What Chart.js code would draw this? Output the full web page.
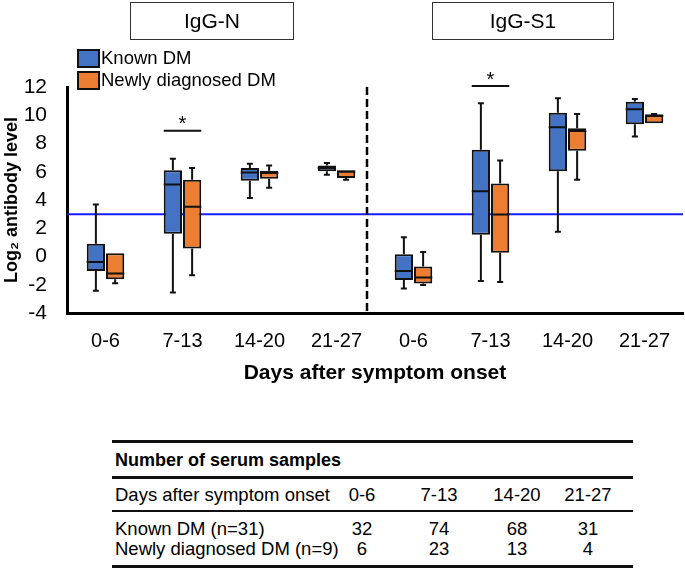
<!DOCTYPE html>
<html>
<head>
<meta charset="utf-8">
<script src="https://cdn.jsdelivr.net/npm/chart.js@4"></script>
<style>
  body { margin: 0; background: #fff; font-family: "Liberation Sans", Arial, sans-serif; color: #000; }
  #wrap { position: relative; width: 685px; height: 570px; overflow: hidden; }
  #c { position: absolute; left: 0; top: 0; }
  .t { position: absolute; white-space: nowrap; }
  .rule { position: absolute; background: #111; }
  .title-box { position: absolute; border: 1px solid #333; height: 36px; line-height: 36px; text-align: center; font-size: 21px; }
  .swatch { position: absolute; width: 19px; height: 15px; border: 2px solid #111; }
</style>
</head>
<body>
<div id="wrap">
  <canvas id="c" width="685" height="400"></canvas>
  <div class="title-box" style="left:130px;top:2px;width:162px;">IgG-N</div>
  <div class="title-box" style="left:432px;top:2px;width:180px;">IgG-S1</div>
  <div class="swatch" style="left:77px;top:49px;background:#4472C4;"></div>
  <div class="t" style="left:101px;top:47px;font-size:18.5px;">Known DM</div>
  <div class="swatch" style="left:77px;top:71px;background:#ED7D31;"></div>
  <div class="t" style="left:101px;top:69px;font-size:18.5px;">Newly diagnosed DM</div>
</div>
<script>
// categories: IgG-N panel then IgG-S1 panel
const categories = ['0-6', '7-13', '14-20', '21-27', '0-6', '7-13', '14-20', '21-27'];

// Known DM box stats (log2 antibody level)
const knownMin = [-2.43, -2.54, 4.15, 5.79, -2.26, -1.73, 1.75, 8.49];
const knownQ1  = [-1.02, 1.61, 5.37, 6.03, -1.66, 1.54, 6.03, 9.37];
const knownMed = [-0.39, 5.09, 5.95, 6.26, -1.02, 4.62, 9.15, 10.42];
const knownQ3  = [0.91, 6.10, 6.26, 6.45, 0.16, 7.55, 10.18, 10.96];
const knownMax = [3.68, 6.92, 6.57, 6.62, 1.37, 10.85, 11.2, 11.15];

// Newly diagnosed DM box stats
const newMin = [-1.89, -1.32, 4.86, 5.44, -2.01, -1.80, 5.44, 9.44];
const newQ1  = [-1.61, 0.56, 5.51, 5.56, -1.91, 0.27, 7.48, 9.44];
const newMed = [-1.20, 3.52, 5.91, 6.00, -1.49, 2.97, 8.89, 9.95];
const newQ3  = [0.23, 5.44, 6.07, 6.10, -0.71, 5.16, 9.08, 10.07];
const newMax = [0.23, 6.26, 6.45, 6.10, 0.32, 6.80, 10.09, 10.09];

const yTicks = [-4, -2, 0, 2, 4, 6, 8, 10, 12];
const threshold = 3.0;
// significance markers: category index and level
const sigCats = [1, 5];
const sigLevels = [8.9, 12.07];

// sample count table
const tableCols = ['0-6', '7-13', '14-20', '21-27'];
const knownCounts = [32, 74, 68, 31];
const newCounts = [6, 23, 13, 4];

const stats = [
  { min: knownMin, med: knownMed, max: knownMax, q1: knownQ1, q3: knownQ3 },
  { min: newMin, med: newMed, max: newMax, q1: newQ1, q3: newQ3 }
];

const boxPlugin = {
  id: 'boxes',
  beforeDatasetsDraw(chart) {
    const { ctx, chartArea, scales: { x, y } } = chart;
    ctx.save();
    // threshold line
    ctx.strokeStyle = '#1a1aff';
    ctx.lineWidth = 2;
    ctx.beginPath();
    ctx.moveTo(chartArea.left, y.getPixelForValue(threshold));
    ctx.lineTo(chartArea.right, y.getPixelForValue(threshold));
    ctx.stroke();
    // panel divider
    const xd = (x.getPixelForValue(3) + x.getPixelForValue(4)) / 2 - 8;
    ctx.strokeStyle = '#000';
    ctx.lineWidth = 2.5;
    ctx.setLineDash([8, 4]);
    ctx.beginPath();
    ctx.moveTo(xd, chartArea.top);
    ctx.lineTo(xd, chartArea.bottom);
    ctx.stroke();
    ctx.restore();
  },
  afterDatasetsDraw(chart) {
    const { ctx, scales: { x, y } } = chart;
    ctx.save();
    ctx.strokeStyle = '#111';
    ctx.lineWidth = 2;
    stats.forEach((s, di) => {
      const meta = chart.getDatasetMeta(di);
      meta.data.forEach((bar, i) => {
        const cx = bar.x, hw = bar.width / 2;
        const yMed = y.getPixelForValue(s.med[i]);
        const yQ1 = y.getPixelForValue(s.q1[i]);
        const yQ3 = y.getPixelForValue(s.q3[i]);
        const yMin = y.getPixelForValue(s.min[i]);
        const yMax = y.getPixelForValue(s.max[i]);
        ctx.beginPath();
        ctx.moveTo(cx - hw, yMed); ctx.lineTo(cx + hw, yMed);
        if (s.max[i] > s.q3[i]) {
          ctx.moveTo(cx, yQ3); ctx.lineTo(cx, yMax);
          ctx.moveTo(cx - 3, yMax); ctx.lineTo(cx + 3, yMax);
        }
        if (s.min[i] < s.q1[i]) {
          ctx.moveTo(cx, yQ1); ctx.lineTo(cx, yMin);
          ctx.moveTo(cx - 3, yMin); ctx.lineTo(cx + 3, yMin);
        }
        ctx.stroke();
      });
    });
    // significance bars
    const m0 = chart.getDatasetMeta(0), m1 = chart.getDatasetMeta(1);
    ctx.fillStyle = '#000';
    ctx.font = '20px "Liberation Sans", Arial';
    ctx.textAlign = 'center';
    ctx.textBaseline = 'middle';
    sigCats.forEach((c, k) => {
      const a = m0.data[c], b = m1.data[c];
      const x0 = a.x - a.width / 2, x1 = b.x + b.width / 2;
      const yy = y.getPixelForValue(sigLevels[k]);
      ctx.beginPath();
      ctx.moveTo(x0, yy); ctx.lineTo(x1, yy);
      ctx.stroke();
      ctx.fillText('*', (x0 + x1) / 2, yy - 6);
    });
    ctx.restore();
  }
};

new Chart(document.getElementById('c'), {
  type: 'bar',
  data: {
    labels: categories,
    datasets: [
      {
        label: 'Known DM',
        data: knownQ1.map((v, i) => [v, knownQ3[i]]),
        backgroundColor: '#4472C4',
        borderColor: '#111',
        borderWidth: 2,
        borderSkipped: false
      },
      {
        label: 'Newly diagnosed DM',
        data: newQ1.map((v, i) => [v, newQ3[i]]),
        backgroundColor: '#ED7D31',
        borderColor: '#111',
        borderWidth: 2,
        borderSkipped: false
      }
    ]
  },
  options: {
    responsive: false,
    animation: false,
    categoryPercentage: 0.5,
    barPercentage: 0.95,
    layout: { padding: { top: 87, right: 2, left: 0, bottom: 0 } },
    plugins: { legend: { display: false }, tooltip: { enabled: false } },
    scales: {
      x: {
        grid: { display: false },
        border: { display: true, color: '#000', width: 3 },
        ticks: { color: '#000', font: { family: '"Liberation Sans", Arial', size: 20 }, padding: 8, maxRotation: 0, autoSkip: false },
        title: { display: true, text: 'Days after symptom onset', color: '#000', font: { family: '"Liberation Sans", Arial', size: 21, weight: 'bold' }, padding: { top: 0, bottom: 14 } },
        afterFit(scale) { scale.height = 87; }
      },
      y: {
        min: -4,
        max: 12,
        afterBuildTicks(scale) { scale.ticks = yTicks.map(v => ({ value: v })); },
        grid: { display: false },
        border: { display: true, color: '#000', width: 3 },
        ticks: { color: '#000', font: { family: '"Liberation Sans", Arial', size: 21 }, padding: 12 },
        title: { display: true, text: 'Log\u2082 antibody level', color: '#000', font: { family: '"Liberation Sans", Arial', size: 18, weight: 'bold' }, padding: { top: 1, bottom: 0 } },
        afterFit(scale) { scale.width = 67; }
      }
    }
  },
  plugins: [boxPlugin]
});

// sample count table
const wrap = document.getElementById('wrap');
function text(str, x, y, size, bold, center) {
  const d = document.createElement('div');
  d.className = 't';
  d.textContent = str;
  d.style.left = x + 'px';
  d.style.top = y + 'px';
  d.style.fontSize = size + 'px';
  if (bold) d.style.fontWeight = 'bold';
  d.style.transform = center ? 'translate(-50%, -50%)' : 'translate(0, -50%)';
  wrap.appendChild(d);
}
function rule(y, h) {
  const d = document.createElement('div');
  d.className = 'rule';
  d.style.left = '112px';
  d.style.width = '521px';
  d.style.top = y + 'px';
  d.style.height = h + 'px';
  wrap.appendChild(d);
}
const colX = [362, 439, 517, 588];
rule(440, 2.5);
text('Number of serum samples', 115, 460, 18, true, false);
rule(476, 2.5);
text('Days after symptom onset', 115, 495, 18.5, false, false);
tableCols.forEach((c, i) => text(c, colX[i], 495, 18.5, false, true));
rule(510, 1.5);
text('Known DM (n=31)', 115, 529, 18.5, false, false);
knownCounts.forEach((n, i) => text(String(n), colX[i], 529, 18.5, false, true));
text('Newly diagnosed DM (n=9)', 115, 549, 18.5, false, false);
newCounts.forEach((n, i) => text(String(n), colX[i], 549, 18.5, false, true));
rule(565, 2.5);
</script>
</body>
</html>
